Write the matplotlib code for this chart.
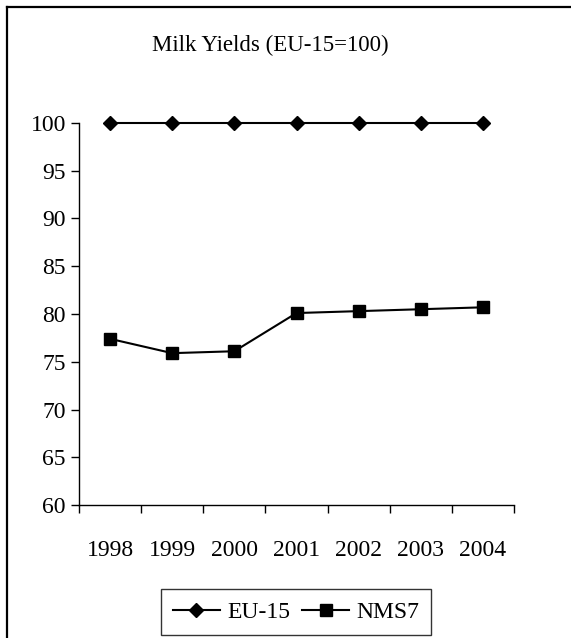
import matplotlib
matplotlib.use('Agg')
import matplotlib.pyplot as plt
from matplotlib.lines import Line2D

plt.rcParams['font.family'] = ['Liberation Serif', 'DejaVu Serif']

years = ['1998', '1999', '2000', '2001', '2002', '2003', '2004']
eu15 = [100, 100, 100, 100, 100, 100, 100]
nms7 = [77.4, 75.9, 76.1, 80.1, 80.3, 80.5, 80.7]
y_ticks = [60, 65, 70, 75, 80, 85, 90, 95, 100]

fig = plt.figure(figsize=(5.71, 6.38), dpi=100)
ax = fig.add_axes([79/571, 1-505/638, (514-79)/571, (505-123)/638])

x = list(range(len(years)))
ax.plot(x, eu15, color='black', lw=1.5, marker='D', ms=7, label='EU-15',
        clip_on=False, zorder=3)
ax.plot(x, nms7, color='black', lw=1.5, marker='s', ms=8, label='NMS7',
        clip_on=False, zorder=3)

ax.set_xlim(-0.5, len(years) - 0.5)
ax.set_ylim(60, 100)
ax.set_yticks(y_ticks)
ax.set_yticklabels([str(v) for v in y_ticks], fontsize=17)

# category labels sit between the boundary ticks
ax.set_xticks([i - 0.5 for i in range(len(years) + 1)])
ax.set_xticklabels([])
ax.set_xticks(x, minor=True)
ax.set_xticklabels(years, minor=True, fontsize=17)
ax.tick_params(axis='x', which='minor', length=0, pad=25)
ax.tick_params(axis='x', which='major', length=5.5, width=1, direction='out')
ax.tick_params(axis='y', length=5.5, width=1, direction='out', pad=4)

for s in ['top', 'right']:
    ax.spines[s].set_visible(False)
for s in ['left', 'bottom']:
    ax.spines[s].set_linewidth(1)

fig.text(270/571, 1-45/638, 'Milk Yields (EU-15=100)', fontsize=16.5,
         ha='center', va='center')

leg = ax.legend(loc='center', bbox_to_anchor=(296/571, 1-612/638),
                bbox_transform=fig.transFigure, ncol=2, fontsize=17,
                frameon=True, fancybox=False, edgecolor='black',
                handlelength=2.0, handletextpad=0.3, columnspacing=0.5,
                borderpad=0.5, borderaxespad=0)
leg.get_frame().set_linewidth(1)

# outer frame (left and top edges)
fig.add_artist(Line2D([7/571, 7/571], [0, 1-7/638], transform=fig.transFigure,
                      color='black', lw=1.6))
fig.add_artist(Line2D([7/571, 1], [1-7/638, 1-7/638], transform=fig.transFigure,
                      color='black', lw=1.6))

fig.savefig('out.png', dpi=100)
